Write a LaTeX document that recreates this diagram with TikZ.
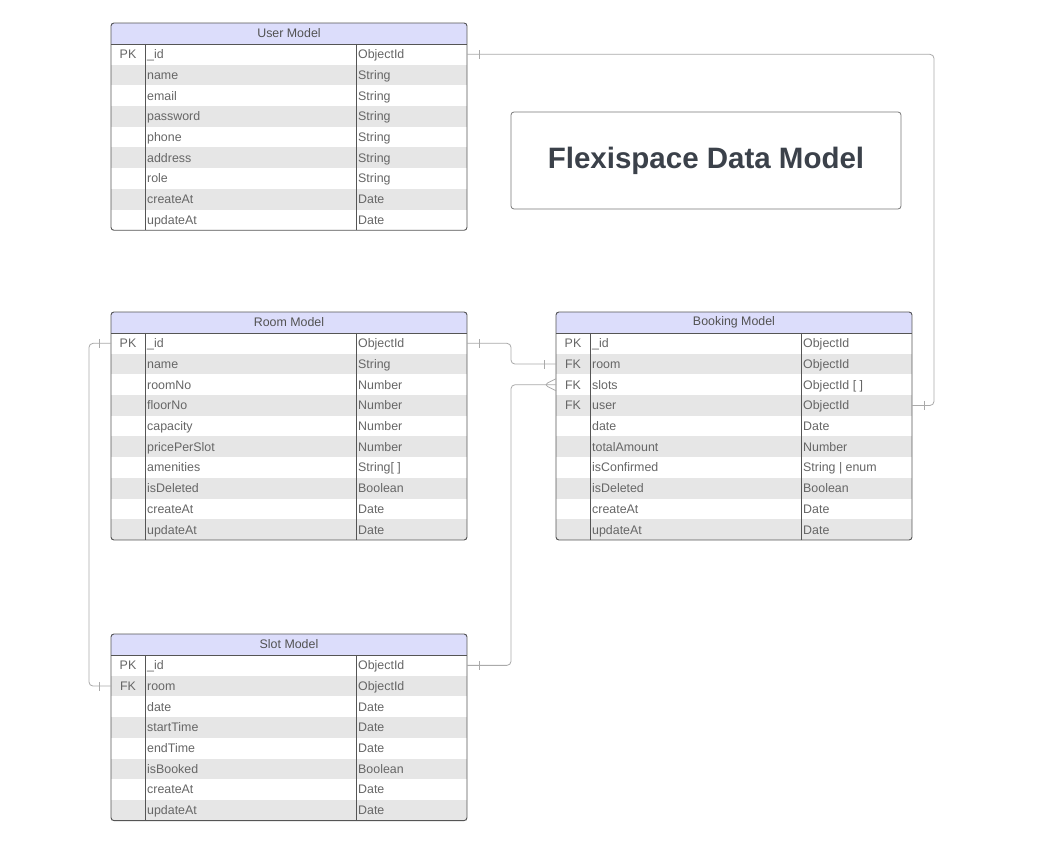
\documentclass[tikz,border=0pt]{standalone}
\usepackage{fontspec}
\setmainfont{Liberation Sans}
\usetikzlibrary{positioning,decorations.markings}

\definecolor{hdrblue}{HTML}{DCDDFB}
\definecolor{rowgrey}{HTML}{E6E6E6}
\definecolor{framegrey}{HTML}{555555}
\definecolor{txtgrey}{HTML}{666666}
\definecolor{relgrey}{HTML}{AAAAAA}
\definecolor{titlegrey}{HTML}{3B414A}

% one table: name, top left corner, title, number of rows, rows
\newcommand{\ertable}[5]{%
  \node[hdr] (#1-h) at (#2) {#3};
  \foreach \k/\f/\t [count=\i] in {#5} {
    \ifnum\i=1 \def\prev{#1-h}\else\pgfmathtruncatemacro\j{\i-1}\edef\prev{#1-\j}\fi
    \ifodd\i \def\rf{white}\else\def\rf{rowgrey}\fi
    \node[row,fill=\rf,below=0pt of \prev] (#1-\i) {};
    \node[cell,anchor=center] (#1-\i-k) at ([xshift=17pt]#1-\i.west) {\k};
    \node[cell] (#1-\i-f) at ([xshift=36pt]#1-\i.west) {\f};
    \node[cell] (#1-\i-t) at ([xshift=247pt]#1-\i.west) {\t};
  }
  \draw[frame] ([xshift=34pt]#1-h.south west) -- ([xshift=34pt]#1-#4.south west)
               ([xshift=245pt]#1-h.south west) -- ([xshift=245pt]#1-#4.south west)
               (#1-h.south west) -- (#1-h.south east);
  \draw[frame,rounded corners=3pt] (#1-h.north west) rectangle (#1-#4.south east);
}

\begin{document}
\begin{tikzpicture}[x=1pt,y=-1pt,font=\fontsize{12.4}{14}\selectfont,
                    frame/.style={draw=framegrey,line width=0.9pt}]
  \tikzstyle{hdr}=[fill=hdrblue,anchor=north west,minimum width=356pt,
                   minimum height=21pt,inner sep=0pt,outer sep=0pt,text=txtgrey!80!black]
  \tikzstyle{row}=[minimum width=356pt,minimum height=20.7pt,inner sep=0pt,outer sep=0pt]
  \tikzstyle{cell}=[anchor=west,inner sep=0pt,text height=8.8pt,text depth=0pt,text=txtgrey]
  \tikzstyle{rel}=[draw=relgrey,line width=0.8pt,rounded corners=4pt]
  \tikzstyle{one one}=[postaction={decorate,decoration={markings,
      mark=at position 12pt with {\draw[relgrey,line width=0.8pt] (0,-4.5pt) -- (0,4.5pt);},
      mark=at position -12pt with {\draw[relgrey,line width=0.8pt] (0,-4.5pt) -- (0,4.5pt);}}}]
  \tikzstyle{one many}=[postaction={decorate,decoration={markings,
      mark=at position 12pt with {\draw[relgrey,line width=0.8pt] (0,-4.5pt) -- (0,4.5pt);},
      mark=at position -12pt with {\draw[relgrey,line width=0.8pt] (12pt,-6pt) -- (0,0) -- (12pt,6pt);}}}]

  \useasboundingbox[fill=white] (0,0) rectangle (1053,842);

  \node[draw=framegrey!80,line width=0.8pt,rounded corners=3pt,minimum width=390pt,
        minimum height=97pt,text=titlegrey,font=\fontsize{29.5}{34}\selectfont\bfseries]
        (title) at (706,160.5) {Flexispace Data Model};

  \ertable{user}{111,23}{User Model}{9}{PK/\_id/ObjectId, /name/String, /email/String,
    /password/String, /phone/String, /address/String, /role/String, /createAt/Date, /updateAt/Date}
  \ertable{room}{111,312}{Room Model}{10}{PK/\_id/ObjectId, /name/String, /roomNo/Number,
    /floorNo/Number, /capacity/Number, /pricePerSlot/Number, /amenities/{String[ ]},
    /isDeleted/Boolean, /createAt/Date, /updateAt/Date}
  \ertable{book}{556,312}{Booking Model}{10}{PK/\_id/ObjectId, FK/room/ObjectId,
    FK/slots/{ObjectId [ ]}, FK/user/ObjectId, /date/Date, /totalAmount/Number,
    /isConfirmed/{String | enum}, /isDeleted/Boolean, /createAt/Date, /updateAt/Date}
  \ertable{slot}{111,634}{Slot Model}{8}{PK/\_id/ObjectId, FK/room/ObjectId, /date/Date,
    /startTime/Date, /endTime/Date, /isBooked/Boolean, /createAt/Date, /updateAt/Date}

  \coordinate (ubend) at ([xshift=22pt]book-4.east);
  \coordinate (rbend) at ([xshift=-22pt]slot-2.west);
  \coordinate (rbk) at ([xshift=-45pt]book-2.west);
  \coordinate (sbk) at ([xshift=-45pt]book-3.west);

  \draw[rel,one one] (user-1.east) -| (ubend) -- (book-4.east);
  \draw[rel,one one] (room-1.west) -| (rbend) -- (slot-2.west);
  \draw[rel,one one] (room-1.east) -| (rbk) -- (book-2.west);
  \draw[rel,one many] (slot-1.east) -| (sbk) -- (book-3.west);
\end{tikzpicture}
\end{document}
